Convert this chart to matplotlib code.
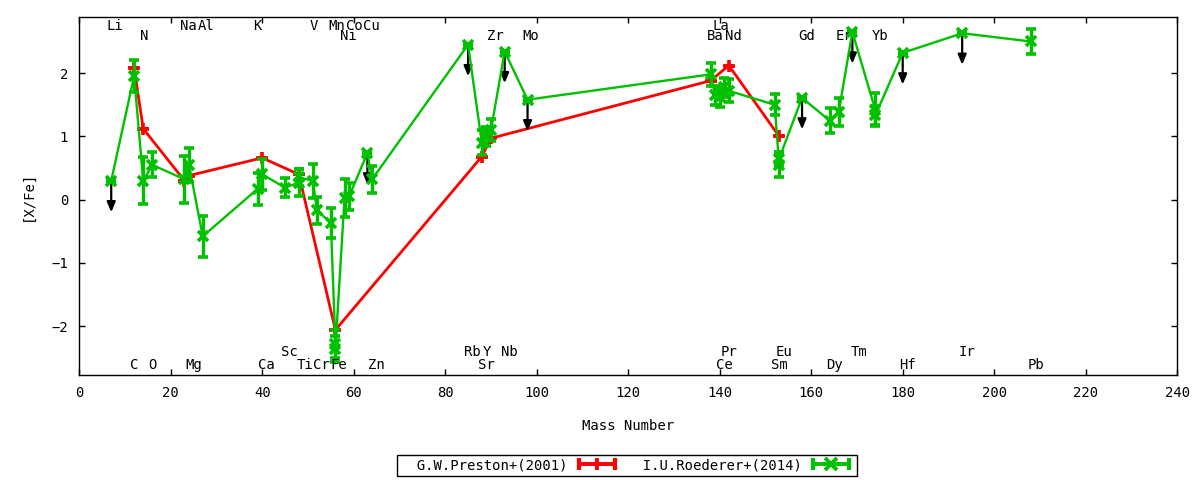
import numpy as np
import matplotlib.pyplot as plt
from matplotlib.lines import Line2D
from matplotlib.legend_handler import HandlerLine2D

plt.rcParams['font.family'] = ['DejaVu Sans Mono', 'DejaVu Sans']
plt.rcParams['font.size'] = 10

# G.W.Preston+(2001)
pr_mass = [12, 14, 23, 24, 40, 48, 56, 88, 90, 138, 142, 153]
pr_xfe = [2.08, 1.12, 0.30, 0.38, 0.66, 0.40, -2.06, 0.68, 0.97, 1.88, 2.12, 1.00]

# I.U.Roederer+(2014), upper = 1 for upper limits
ro_mass = [7, 12, 14, 16, 23, 24, 27, 39, 40, 45, 48, 48, 51, 52, 55, 56, 56,
           58, 59, 63, 64, 85, 88, 89, 90, 93, 98, 138, 139, 140, 141, 142,
           152, 153, 153, 158, 164, 166, 169, 174, 174, 180, 193, 208]
ro_xfe = [0.30, 1.95, 0.30, 0.55, 0.32, 0.55, -0.58, 0.17, 0.40, 0.19, 0.27, 0.35,
          0.30, -0.17, -0.37, -2.28, -2.36, 0.03, 0.05, 0.74, 0.32, 2.45, 0.90,
          1.00, 1.10, 2.34, 1.58, 1.98, 1.65, 1.62, 1.78, 1.72, 1.50, 0.55, 0.65,
          1.61, 1.25, 1.38, 2.65, 1.42, 1.33, 2.32, 2.63, 2.50]
ro_err = [0, 0.25, 0.37, 0.20, 0.37, 0.27, 0.32, 0.25, 0.25, 0.15, 0.22, 0.14,
          0.27, 0.21, 0.24, 0.22, 0.20, 0.30, 0.22, 0, 0.21, 0, 0.20,
          0.15, 0.17, 0, 0, 0.18, 0.15, 0.15, 0.15, 0.18, 0.17, 0.20, 0.10,
          0, 0.20, 0.22, 0, 0.26, 0.15, 0, 0, 0.20]
ro_upper = [1, 0, 0, 0, 0, 0, 0, 0, 0, 0, 0, 0,
            0, 0, 0, 0, 0, 0, 0, 1, 0, 1, 0,
            0, 0, 1, 1, 0, 0, 0, 0, 0, 0, 0, 0,
            1, 0, 0, 1, 0, 0, 1, 1, 0]
ul_len = 0.5

# element names, four rows (two above, two below)
top1_names = ['Li', 'Na', 'Al', 'K', 'V', 'Mn', 'Co', 'Cu', 'La']
top1_x = [7.9, 23.9, 27.7, 38.9, 51.2, 56.4, 60.1, 63.9, 140.2]
top2_names = ['N', 'Ni', 'Zr', 'Mo', 'Ba', 'Nd', 'Gd', 'Er', 'Yb']
top2_x = [14.1, 58.9, 91.0, 98.8, 139.0, 143.0, 159.1, 167.2, 175.0]
bot1_names = ['Sc', 'Rb', 'Y', 'Nb', 'Pr', 'Eu', 'Tm', 'Ir']
bot1_x = [45.9, 85.9, 89.2, 94.0, 142.0, 154.0, 170.4, 194.0]
bot2_names = ['C', 'O', 'Mg', 'Ca', 'Ti', 'Cr', 'Fe', 'Zn', 'Sr', 'Ce', 'Sm',
              'Dy', 'Hf', 'Pb']
bot2_x = [12.0, 16.0, 25.0, 40.9, 49.3, 53.0, 56.8, 65.0, 88.9, 141.1, 153.1,
          165.1, 181.1, 209.1]

red = '#ff0000'
green = '#00c000'

fig, ax = plt.subplots(figsize=(12, 4.8), dpi=100)
fig.subplots_adjust(left=0.066, right=0.981, bottom=0.219, top=0.965)

style = dict(capsize=3.6, capthick=2.8, elinewidth=2.4, mew=2.6)
ax.errorbar(pr_mass, pr_xfe, yerr=np.zeros(len(pr_mass)), color=red, lw=2,
            marker='+', ms=8, zorder=2, **style)
ax.errorbar(ro_mass, ro_xfe, yerr=ro_err, color=green, lw=1.7,
            marker='x', ms=7, zorder=3, **style)

# upper limit arrows
for m, v, u in zip(ro_mass, ro_xfe, ro_upper):
    if u:
        ax.annotate('', xy=(m, v - ul_len), xytext=(m, v),
                    arrowprops=dict(arrowstyle='-|>,head_length=0.6,head_width=0.25',
                                    color='black', lw=1.6, mutation_scale=10,
                                    shrinkA=0, shrinkB=0), zorder=2.5)

trans = ax.get_xaxis_transform()
for names, xs, yy in [(top1_names, top1_x, 0.9628), (top2_names, top2_x, 0.9349),
                      (bot1_names, bot1_x, 0.0539), (bot2_names, bot2_x, 0.0159)]:
    for n, x in zip(names, xs):
        ax.text(x, yy, n, transform=trans, ha='center', va='baseline')

ax.set_xlim(0, 240)
ax.set_ylim(-2.77, 2.89)
ax.set_xticks(np.arange(0, 241, 20))
ax.set_yticks([-2, -1, 0, 1, 2])
ax.tick_params(direction='in', top=True, right=True, length=4.5, width=1)
ax.tick_params(axis='x', pad=8)
ax.tick_params(axis='y', pad=8)
for s in ax.spines.values():
    s.set_linewidth(1)

ax.set_xlabel('Mass Number', labelpad=14)
ax.set_ylabel('[X/Fe]', labelpad=12)

# legend: gnuplot-like sample with caps at the ends
handles = []
hmap = {}
for c, mk in [(red, '+'), (green, 'x')]:
    caps = Line2D([], [], color=c, lw=2.8, marker='|', ms=9, mew=3)
    mid = Line2D([], [], color=c, ls='none', marker=mk, ms=8, mew=2.8)
    hmap[caps] = HandlerLine2D(numpoints=2)
    hmap[mid] = HandlerLine2D(numpoints=1)
    handles.append((caps, mid))

leg = fig.legend(handles, ['  G.W.Preston+(2001)', '  I.U.Roederer+(2014)'],
                 handler_map=hmap, loc='center', bbox_to_anchor=(0.5225, 0.031),
                 ncol=2, markerfirst=False, fancybox=False, framealpha=1,
                 edgecolor='black', handlelength=3.2, handletextpad=0.5,
                 columnspacing=0.5, borderpad=0.25)
leg.get_frame().set_linewidth(1)

fig.savefig('out.png', dpi=100)
